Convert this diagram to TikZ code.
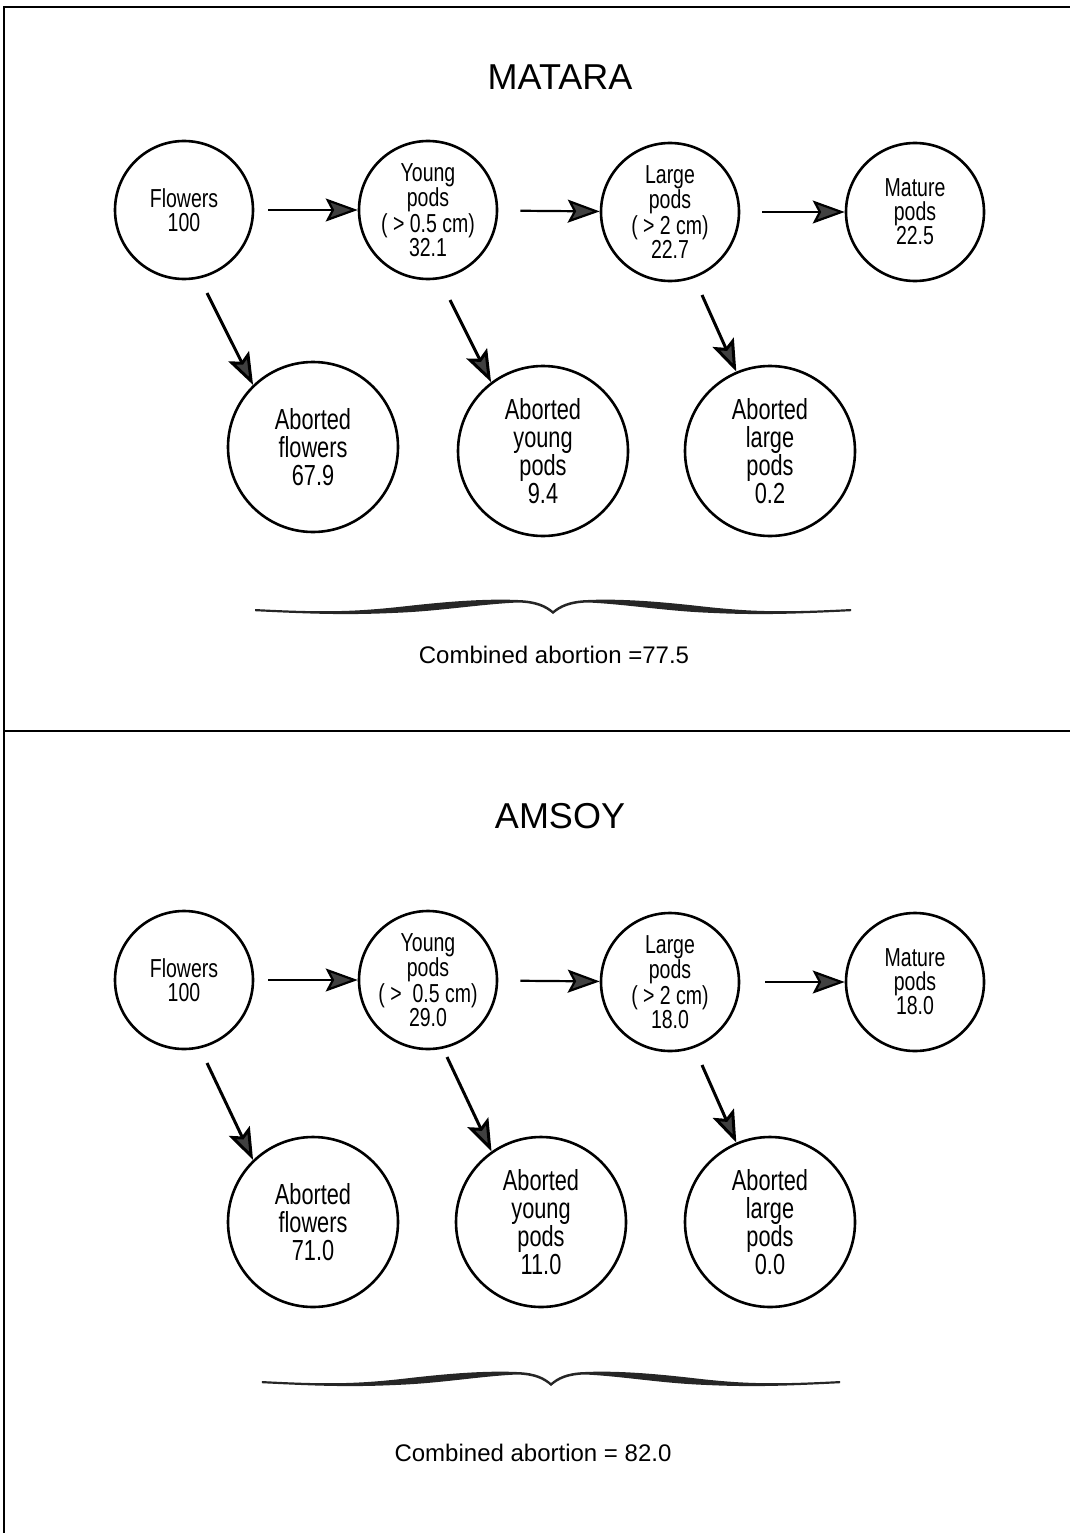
\documentclass[tikz,border=0pt]{standalone}
\usepackage{fontspec}
\setmainfont{Liberation Sans}
\newfontfamily\narrowfont[FakeStretch=0.75]{Liberation Sans}
\usetikzlibrary{arrows.meta}
\newcommand{\bracepath}{%
  \fill[black!85] (-298,6) .. controls (-230,9.5) and (-200,9) .. (-150,3.5) .. controls (-110,-1) and (-70,-4.5) .. (-35,-3) .. controls (-15,-2.5) and (-6,3) .. (0,8)
   .. controls (6,3) and (15,-2.5) .. (35,-3) .. controls (70,-4.5) and (110,-1) .. (150,3.5) .. controls (200,9) and (230,9.5) .. (298,6)
   -- (298,8.2) .. controls (230,11.5) and (200,12) .. (150,9.5) .. controls (110,7.5) and (70,1) .. (35,-0.5) .. controls (18,0) and (8,4) .. (0,11)
   .. controls (-8,4) and (-18,0) .. (-35,-0.5) .. controls (-70,1) and (-110,7.5) .. (-150,9.5) .. controls (-200,12) and (-230,11.5) .. (-298,8.2) -- cycle;}
\begin{document}
\begin{tikzpicture}[x=1pt,y=-1pt,
  stage/.style={circle,draw,line width=2.6pt,inner sep=0pt,minimum size=138pt,align=center,
    font=\narrowfont\fontsize{26}{24}\selectfont},
  abort/.style={circle,draw,line width=2.6pt,inner sep=0pt,minimum size=170pt,align=center,
    font=\narrowfont\fontsize{29}{28}\selectfont},
  tipstyle/.style={-{Stealth[length=32pt,width=23pt,inset=6pt,fill=black!75]}},
  harr/.style={line width=2.2pt,tipstyle},
  darr/.style={line width=3pt,tipstyle},
  paneltitle/.style={font=\fontsize{36}{40}\selectfont},
  sumtext/.style={font=\fontsize{24}{28}\selectfont},
  frameline/.style={line width=2.4pt}
]
\useasboundingbox (0,0) rectangle (1070,1533);
% frame
\coordinate (c1) at (4,1533);
\coordinate (c2) at (4,7);
\coordinate (c3) at (1070,7);
\coordinate (c4) at (4,731);
\coordinate (c5) at (1070,731);
\draw[frameline] (c1) -- (c2) -- (c3);
\draw[frameline] (c4) -- (c5);

% ---------------- MATARA ----------------
\node[paneltitle] (mt) at (560,77) {MATARA};
\node[stage] (mf) at (184,210) {Flowers\\100};
\node[stage] (my) at (428,210) {Young\\pods\\( > 0.5 cm)\\32.1};
\node[stage] (ml) at (670,212) {Large\\pods\\( > 2 cm)\\22.7};
\node[stage] (mm) at (915,212) {Mature\\pods\\22.5};
\node[abort] (maf) at (313,447) {Aborted\\flowers\\67.9};
\node[abort] (may) at (543,451) {Aborted\\young\\pods\\9.4};
\node[abort] (mal) at (770,451) {Aborted\\large\\pods\\0.2};
\draw[harr,shorten <=14pt] (mf) -- (my);
\draw[harr,shorten <=22pt] (my) -- (ml);
\draw[harr,shorten <=22pt] (ml) -- (mm);
\coordinate (ms1) at (207,293);
\coordinate (ms2) at (450,300);
\coordinate (ms3) at (702,295);
\draw[darr] (ms1) -- (maf.134);
\draw[darr] (ms2) -- (may.127);
\draw[darr] (ms3) -- (mal.113);
\begin{scope}[shift={(553,603)}]
  \bracepath
\end{scope}
\node[sumtext] (mc) at (554,655) {Combined abortion =77.5};

% ---------------- AMSOY ----------------
\node[paneltitle] (at) at (560,816) {AMSOY};
\node[stage] (af) at (184,980) {Flowers\\100};
\node[stage] (ay) at (428,980) {Young\\pods\\( >\ \ 0.5 cm)\\29.0};
\node[stage] (al) at (670,982) {Large\\pods\\( > 2 cm)\\18.0};
\node[stage] (am) at (915,982) {Mature\\pods\\18.0};
\node[abort] (aaf) at (313,1222) {Aborted\\flowers\\71.0};
\node[abort] (aay) at (541,1222) {Aborted\\young\\pods\\11.0};
\node[abort] (aal) at (770,1222) {Aborted\\large\\pods\\0.0};
\draw[harr,shorten <=14pt] (af) -- (ay);
\draw[harr,shorten <=22pt] (ay) -- (al);
\draw[harr,shorten <=25pt] (al) -- (am);
\coordinate (as1) at (207,1063);
\coordinate (as2) at (447,1057);
\coordinate (as3) at (702,1065);
\draw[darr] (as1) -- (aaf.134);
\draw[darr] (as2) -- (aay.125);
\draw[darr] (as3) -- (aal.113);
\begin{scope}[shift={(551,1375)},xscale=0.97]
  \bracepath
\end{scope}
\node[sumtext] (ac) at (533,1453) {Combined abortion = 82.0};
\end{tikzpicture}
\end{document}
